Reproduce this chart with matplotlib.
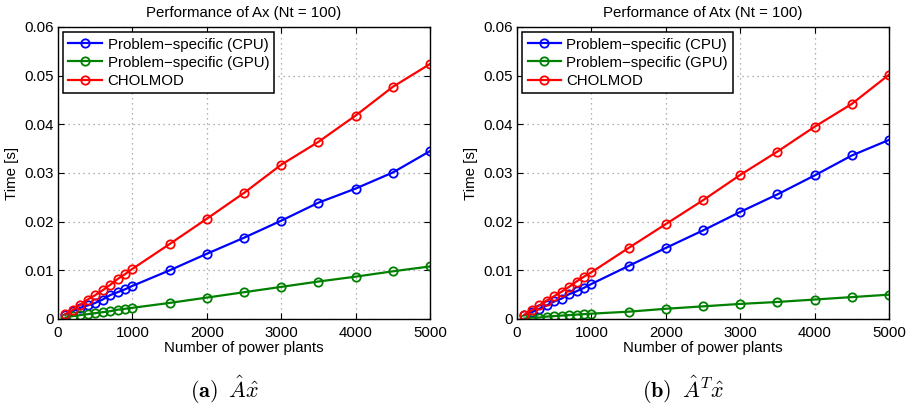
import matplotlib
matplotlib.use("Agg")
import matplotlib.pyplot as plt

plt.rcParams['font.family'] = ['Liberation Sans', 'DejaVu Sans']
plt.rcParams['mathtext.fontset'] = 'cm'

n_plants = [100, 200, 300, 400, 500, 600, 700, 800, 900, 1000,
            1500, 2000, 2500, 3000, 3500, 4000, 4500, 5000]

# (a) Ax
ax_cpu = [0.0009, 0.0016, 0.0023, 0.0028, 0.0033, 0.0040, 0.0049, 0.0055, 0.0061, 0.0068,
          0.0100, 0.0134, 0.0167, 0.0202, 0.0239, 0.0268, 0.0301, 0.0345]
ax_gpu = [0.0003, 0.0006, 0.0008, 0.0010, 0.0012, 0.0014, 0.0016, 0.0019, 0.0021, 0.0023,
          0.0033, 0.0044, 0.0055, 0.0066, 0.0077, 0.0087, 0.0098, 0.0108]
ax_chol = [0.0010, 0.0019, 0.0029, 0.0040, 0.0049, 0.0059, 0.0070, 0.0082, 0.0092, 0.0103,
           0.0154, 0.0206, 0.0259, 0.0317, 0.0364, 0.0418, 0.0477, 0.0524]

# (b) Atx
atx_cpu = [0.0008, 0.0014, 0.0021, 0.0028, 0.0036, 0.0042, 0.0051, 0.0057, 0.0064, 0.0072,
           0.0109, 0.0146, 0.0182, 0.0220, 0.0256, 0.0295, 0.0336, 0.0368]
atx_gpu = [0.0001, 0.0003, 0.0003, 0.0005, 0.0006, 0.0007, 0.0008, 0.0009, 0.0010, 0.0011,
           0.0015, 0.0021, 0.0026, 0.0031, 0.0035, 0.0040, 0.0045, 0.0050]
atx_chol = [0.0009, 0.0018, 0.0028, 0.0038, 0.0047, 0.0056, 0.0066, 0.0077, 0.0087, 0.0096,
            0.0146, 0.0195, 0.0244, 0.0296, 0.0344, 0.0395, 0.0442, 0.0502]

series_labels = ['Problem\u2212specific (CPU)', 'Problem\u2212specific (GPU)', 'CHOLMOD']
series_colors = ['#0000ff', '#008000', '#ff0000']
titles = ['Performance of Ax (Nt = 100)', 'Performance of Atx (Nt = 100)']
captions = [r'$\mathbf{(a)}\;\;\hat{A}\hat{x}$', r'$\mathbf{(b)}\;\;\hat{A}^T\hat{x}$']
x_ticks = [0, 1000, 2000, 3000, 4000, 5000]
y_ticks = [0, 0.01, 0.02, 0.03, 0.04, 0.05, 0.06]
y_tick_labels = ['0', '0.01', '0.02', '0.03', '0.04', '0.05', '0.06']

fig = plt.figure(figsize=(9.06, 4.07), dpi=100)
lefts = [58 / 906, 517 / 906]
datasets = [(ax_cpu, ax_gpu, ax_chol), (atx_cpu, atx_gpu, atx_chol)]
caption_x = [225 / 906, 683 / 906]

for i in range(2):
    ax = fig.add_axes([lefts[i], 1 - 319 / 407, 372 / 906, 292 / 407])
    for ys, lab, col in zip(datasets[i], series_labels, series_colors):
        ax.plot(n_plants, ys, '-o', color=col, label=lab, lw=1.6,
                markersize=6, markerfacecolor='none', markeredgewidth=1.3)
    ax.set_xlim(0, 5000)
    ax.set_ylim(0, 0.06)
    ax.set_xticks(x_ticks)
    ax.set_xticklabels([str(t) for t in x_ticks])
    ax.set_yticks(y_ticks)
    ax.set_yticklabels(y_tick_labels)
    ax.tick_params(direction='in', length=4, labelsize=10.8, top=True, right=True)
    ax.tick_params(axis='x', pad=5)
    ax.tick_params(axis='y', pad=3)
    ax.grid(True, linestyle=(0, (1, 3)), color='#999999', linewidth=0.9)
    for s in ax.spines.values():
        s.set_linewidth(1.0)
    ax.set_title(titles[i], fontsize=10.8, pad=7)
    ax.set_xlabel('Number of power plants', fontsize=10.8, labelpad=1)
    ax.set_ylabel('Time [s]', fontsize=10.8, labelpad=4)
    leg = ax.legend(loc='upper left', fontsize=10.8, frameon=True, fancybox=False,
                    edgecolor='black', framealpha=1, borderaxespad=0.35,
                    handlelength=2.2, handletextpad=0.4, labelspacing=0.28,
                    borderpad=0.35)
    leg.get_frame().set_linewidth(1.1)
    fig.text(caption_x[i], 1 - 390 / 407, captions[i], ha='center', va='center', fontsize=16)

fig.savefig('out.png', dpi=100)
